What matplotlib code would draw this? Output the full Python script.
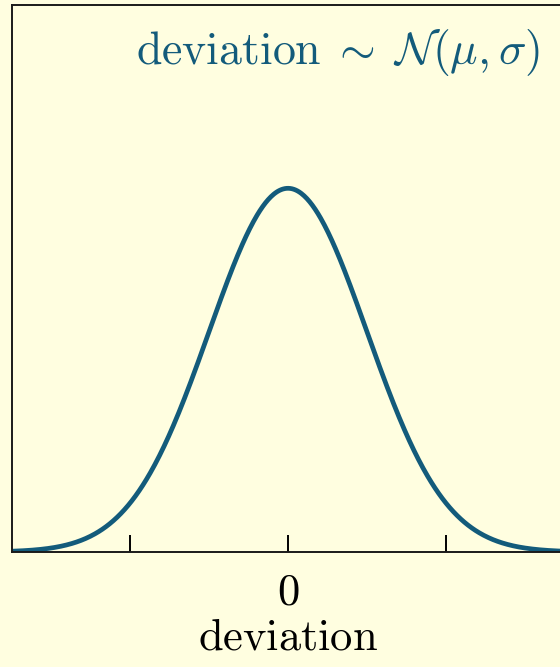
import numpy as np
import matplotlib
matplotlib.use("Agg")
import matplotlib.pyplot as plt

plt.rcParams['mathtext.fontset'] = 'cm'

# normal density, mu = 0, sigma = 1
mu = 0.0
sigma = 1.0
x_range = (-3.5, 3.5)
y_range = (0.0, 0.6)
tick_pos = [-2, 0, 2]
tick_labels = ['', r'$0$', '']

bg = '#fffee0'
curve_color = '#135b7b'

x = np.linspace(x_range[0], x_range[1], 600)
pdf = np.exp(-0.5 * ((x - mu) / sigma) ** 2) / (sigma * np.sqrt(2 * np.pi))

fig = plt.figure(figsize=(5.6, 6.67), dpi=100, facecolor=bg)
ax = fig.add_axes([12 / 560, 115 / 667, 552 / 560, 547 / 667], facecolor=bg)

ax.plot(x, pdf, color=curve_color, lw=3.4, solid_capstyle='butt')
ax.set_xlim(*x_range)
ax.set_ylim(*y_range)

ax.set_xticks(tick_pos)
ax.set_xticklabels(tick_labels, fontsize=32)
ax.set_yticks([])
ax.tick_params(axis='x', direction='in', length=12, width=1.4, pad=13)
for s in ax.spines.values():
    s.set_linewidth(1.4)
    s.set_color('#1a1a1a')

ax.set_xlabel(r'$\mathrm{deviation}$', fontsize=32, labelpad=2)

fig.text(540 / 560, 1 - 52 / 667, r'$\mathrm{deviation}\;\sim\;\mathcal{N}(\mu, \sigma)$',
         color=curve_color, fontsize=33, ha='right', va='center')

fig.savefig('out.png', dpi=100, facecolor=bg)
